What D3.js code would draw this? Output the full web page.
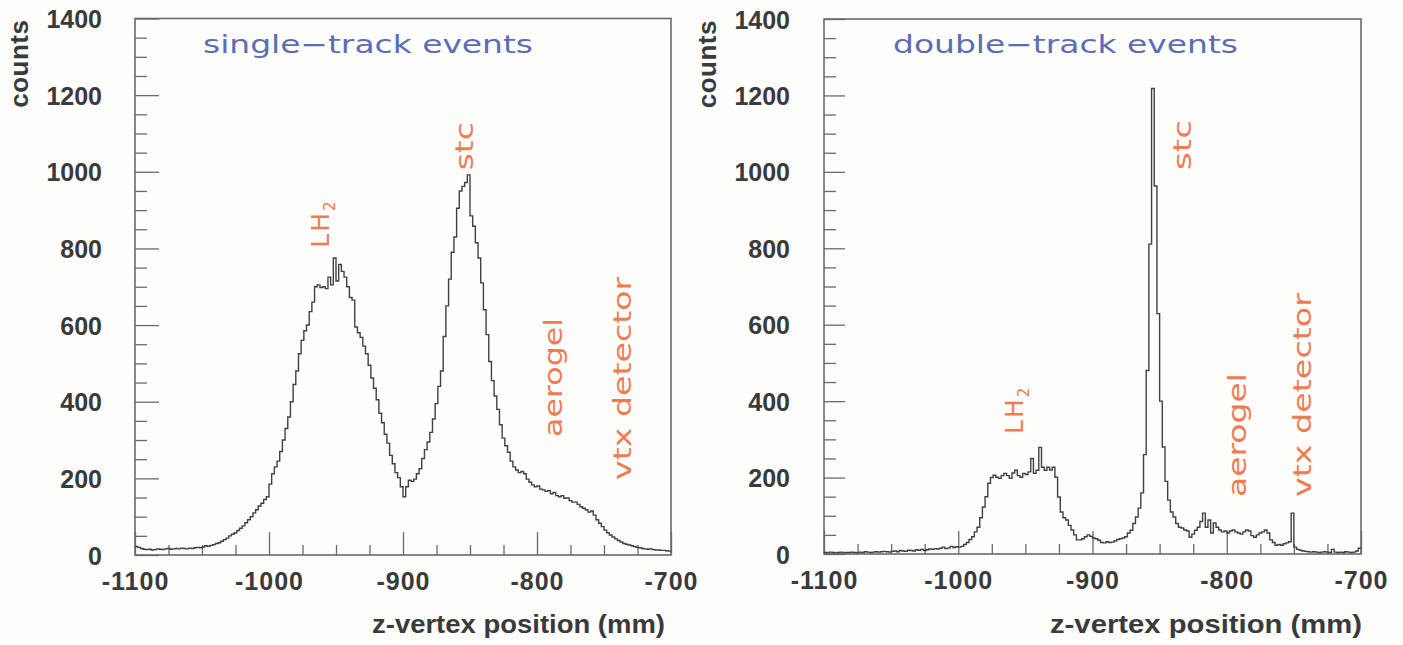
<!DOCTYPE html>
<html>
<head>
<meta charset="utf-8">
<script src="https://cdn.jsdelivr.net/npm/d3@7"></script>
<style>
  html, body { margin: 0; padding: 0; background: #fdfdfb; }
  svg { display: block; }
</style>
</head>
<body>
<svg id="chart" width="1403" height="645"></svg>
<script>
// z-vertex histograms, 2 mm bins starting at -1100 mm
const binStart = -1100;
const binWidth = 2;

const singleTrack = [
  22, 20, 17, 15, 14, 15, 13, 14, 16, 15,
  14, 16, 17, 15, 16, 17, 16, 18, 17, 16,
  18, 17, 19, 20, 19, 21, 24, 23, 25, 27,
  30, 32, 36, 40, 44, 50, 54, 58, 64, 70,
  76, 84, 92, 100, 110, 118, 128, 135, 145, 152,
  185, 212, 230, 245, 270, 300, 330, 360, 400, 445,
  480, 525, 560, 585, 600, 635, 660, 700, 705, 698,
  700, 695, 725, 705, 775, 715, 758, 740, 725, 700,
  672, 665, 595, 580, 568, 545, 525, 495, 462, 435,
  405, 370, 345, 315, 292, 260, 238, 215, 202, 178,
  152, 178, 195, 192, 198, 212, 225, 252, 275, 295,
  320, 355, 395, 440, 480, 570, 650, 720, 790, 830,
  905, 950, 962, 972, 992, 885, 858, 815, 775, 710,
  640, 575, 505, 455, 415, 380, 340, 305, 285, 268,
  245, 230, 222, 215, 218, 212, 198, 190, 183, 178,
  180, 172, 170, 166, 168, 160, 163, 155, 152, 155,
  148, 149, 142, 138, 138, 132, 126, 122, 118, 112,
  115, 104, 92, 83, 74, 65, 58, 52, 47, 42,
  38, 34, 30, 28, 26, 24, 22, 20, 19, 17,
  16, 15, 16, 14, 13, 13, 12, 12, 11, 10
];

const doubleTrack = [
  4, 3, 5, 4, 3, 4, 5, 3, 4, 4,
  5, 4, 3, 5, 4, 6, 5, 4, 5, 6,
  5, 6, 7, 6, 5, 7, 8, 6, 9, 8,
  7, 10, 9, 8, 11, 10, 12, 9, 11, 13,
  12, 14, 13, 15, 18, 14, 16, 20, 17, 19,
  18, 20, 25, 30, 38, 45, 58, 70, 95, 123,
  150, 185, 200, 206, 201, 198, 205, 211, 205, 198,
  212, 219, 205, 201, 211, 208, 215, 250, 211, 219,
  279, 227, 219, 227, 220, 227, 201, 149, 110, 95,
  89, 75, 63, 50, 37, 37, 40, 45, 50, 46,
  42, 40, 36, 30, 29, 32, 30, 31, 34, 38,
  40, 42, 45, 55, 62, 80, 97, 120, 160, 260,
  480, 811, 1218, 963, 629, 400, 280, 190, 141, 110,
  97, 80, 70, 68, 63, 60, 44, 52, 62, 70,
  85, 107, 70, 89, 55, 81, 70, 63, 58, 60,
  55, 60, 63, 58, 55, 52, 58, 63, 60, 48,
  44, 50, 55, 58, 63, 55, 37, 30, 23, 25,
  23, 27, 29, 32, 107, 18, 12, 10, 8, 7,
  6, 5, 6, 5, 4, 5, 6, 5, 4, 12,
  5, 4, 5, 4, 6, 5, 4, 5, 8, 15
];

const xMajorTicks = [-1100, -1000, -900, -800, -700];
const xMinorTicks = [-1075, -1050, -1025, -975, -950, -925, -875, -850, -825, -775, -750, -725];
const yMajorTicks = [0, 200, 400, 600, 800, 1000, 1200, 1400];
const yMinorTicks = [50, 100, 150, 250, 300, 350, 450, 500, 550, 650, 700, 750,
                     850, 900, 950, 1050, 1100, 1150, 1250, 1300, 1350];

const xDomain = [-1100, -700];
const yDomain = [0, 1400];

const svg = d3.select('#chart');

const AXIS_FONT = "'Liberation Sans', Arial, Helvetica, sans-serif";
const NOTE_FONT = "'DejaVu Sans', Verdana, sans-serif";
const INK = '#3a3a3a';
const FRAME = '#6a6a6a';
const NOTE = '#f07b52';
const TITLE = '#5d6db3';

function drawPanel(cfg) {
  const x = d3.scaleLinear().domain(xDomain).range([cfg.left, cfg.right]);
  const y = d3.scaleLinear().domain(yDomain).range([cfg.bottom, cfg.top]);
  const g = svg.append('g');

  // frame
  g.append('rect')
    .attr('x', cfg.left).attr('y', cfg.top)
    .attr('width', cfg.right - cfg.left).attr('height', cfg.bottom - cfg.top)
    .attr('fill', 'none').attr('stroke', FRAME).attr('stroke-width', 1.6);

  const styleAxis = sel => {
    sel.select('.domain').remove();
    sel.selectAll('.tick line').attr('stroke', FRAME).attr('stroke-width', 1.3);
    sel.selectAll('.tick text')
      .attr('fill', INK)
      .style('font-family', AXIS_FONT)
      .style('font-weight', 'bold')
      .style('font-size', '25px');
  };

  // y axis: minor then major ticks pointing inward
  g.append('g').attr('transform', `translate(${cfg.left},0)`)
    .call(d3.axisLeft(y).tickValues(yMinorTicks).tickSize(-12).tickFormat(''))
    .call(styleAxis);
  g.append('g').attr('transform', `translate(${cfg.left},0)`)
    .call(d3.axisLeft(y).tickValues(yMajorTicks).tickSize(-cfg.yMajorLen)
      .tickPadding(cfg.yPad).tickFormat(d => String(d)))
    .call(styleAxis)
    .call(s => s.selectAll('.tick text').attr('dy', '0.36em'));

  // x axis
  g.append('g').attr('transform', `translate(0,${cfg.bottom})`)
    .call(d3.axisBottom(x).tickValues(xMinorTicks).tickSize(-10).tickFormat(''))
    .call(styleAxis);
  g.append('g').attr('transform', `translate(0,${cfg.bottom})`)
    .call(d3.axisBottom(x).tickValues(xMajorTicks).tickSize(-23)
      .tickPadding(17).tickFormat(d => String(d)))
    .call(styleAxis)
    .call(s => s.selectAll('.tick text').style('letter-spacing', '1px'));

  // histogram as a step line
  const pts = cfg.values.map((v, i) => [binStart + i * binWidth, v]);
  pts.push([binStart + cfg.values.length * binWidth, cfg.values[cfg.values.length - 1]]);
  const line = d3.line().x(d => x(d[0])).y(d => y(d[1])).curve(d3.curveStepAfter);
  g.append('path')
    .datum(pts)
    .attr('d', line)
    .attr('fill', 'none')
    .attr('stroke', '#404040')
    .attr('stroke-width', 1.4)
    .attr('stroke-linejoin', 'miter');

  // axis titles
  g.append('text')
    .attr('transform', `translate(${cfg.countsX},${cfg.top + 1}) rotate(-90)`)
    .attr('text-anchor', 'end')
    .attr('fill', INK)
    .style('font-family', AXIS_FONT).style('font-weight', 'bold').style('font-size', '26px')
    .style('letter-spacing', '0.5px')
    .text('counts');

  g.append('text')
    .attr('x', cfg.xTitleEnd).attr('y', 633)
    .attr('text-anchor', 'end')
    .attr('fill', INK)
    .attr('textLength', cfg.xTitleLen).attr('lengthAdjust', 'spacingAndGlyphs')
    .style('font-family', AXIS_FONT).style('font-weight', 'bold').style('font-size', '25px')
    .text('z-vertex position (mm)');

  // panel title
  g.append('text')
    .attr('x', cfg.titleX).attr('y', 53)
    .attr('fill', TITLE)
    .attr('textLength', cfg.titleLen).attr('lengthAdjust', 'spacingAndGlyphs')
    .style('font-family', NOTE_FONT).style('font-size', '25px')
    .text(cfg.title);

  // detector component labels, rotated, anchored in data coordinates
  cfg.notes.forEach(n => {
    const t = g.append('text')
      .attr('transform', `translate(${x(n.z)},${y(n.c)}) rotate(-90)`)
      .attr('fill', NOTE)
      .style('font-family', NOTE_FONT).style('font-size', '25px');
    if (n.sub) {
      t.style('letter-spacing', '2px');
      t.append('tspan').text(n.text);
      t.append('tspan').attr('dy', 6).style('font-size', '15px').text(n.sub);
    } else {
      t.attr('textLength', n.len).attr('lengthAdjust', 'spacingAndGlyphs').text(n.text);
    }
  });
}

drawPanel({
  left: 135, right: 671, top: 18.5, bottom: 555,
  yMajorLen: 24, yPad: 33, countsX: 28,
  xTitleEnd: 665, xTitleLen: 293,
  titleX: 203, titleLen: 330, title: 'single\u2212track events',
  values: singleTrack,
  notes: [
    { text: 'LH', sub: '2', z: -955, c: 802 },
    { text: 'stc', z: -848, c: 1004, len: 48 },
    { text: 'aerogel', z: -781, c: 308, len: 119 },
    { text: 'vtx detector', z: -730, c: 196, len: 203 }
  ]
});

drawPanel({
  left: 824, right: 1361, top: 19, bottom: 554,
  yMajorLen: 21, yPad: 34, countsX: 716,
  xTitleEnd: 1362, xTitleLen: 312,
  titleX: 893, titleLen: 345, title: 'double\u2212track events',
  values: doubleTrack,
  notes: [
    { text: 'LH', sub: '2', z: -952, c: 314 },
    { text: 'stc', z: -827, c: 1005, len: 50 },
    { text: 'aerogel', z: -786, c: 149, len: 124 },
    { text: 'vtx detector', z: -737, c: 149, len: 204 }
  ]
});
</script>
</body>
</html>
